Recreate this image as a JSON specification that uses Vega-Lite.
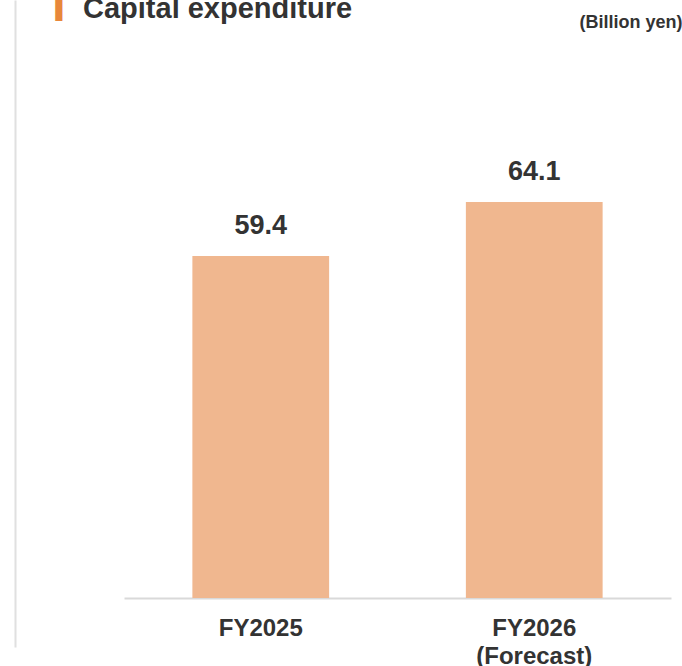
{
  "$schema": "https://vega.github.io/schema/vega-lite/v6.json",
  "width": 547,
  "height": 647,
  "autosize": {"type": "none"},
  "padding": {"left": 124, "top": 0, "right": 11, "bottom": 19},
  "background": "white",
  "config": {"view": {"stroke": null}},
  "title": {
    "text": "Capital expenditure",
    "anchor": "start",
    "frame": "group",
    "fontSize": 29,
    "fontWeight": "bold",
    "font": "Liberation Sans",
    "color": "#333333",
    "baseline": "alphabetic",
    "offset": 0,
    "dx": -41,
    "dy": 52
  },
  "data": {
    "values": [
      {"year": "FY2025", "value": 59.4},
      {"year": "FY2026 (Forecast)", "value": 64.1}
    ]
  },
  "encoding": {
    "x": {
      "field": "year",
      "type": "nominal",
      "sort": null,
      "scale": {"paddingInner": 0.5, "paddingOuter": 0.25},
      "axis": {
        "orient": "bottom",
        "offset": -49,
        "domainColor": "#d9d9d9",
        "domainWidth": 2,
        "ticks": false,
        "labelAngle": 0,
        "labelFontSize": 24,
        "labelFontWeight": "bold",
        "labelColor": "#333333",
        "labelFont": "Liberation Sans",
        "labelPadding": 37,
        "labelBaseline": "alphabetic",
        "labelLineHeight": 28,
        "labelOverlap": false,
        "labelExpr": "split(datum.label, ' ')",
        "title": "(Billion yen)",
        "titleX": 558,
        "titleY": -571,
        "titleAlign": "right",
        "titleAnchor": null,
        "titleAngle": 0,
        "titleBaseline": "alphabetic",
        "titleFontSize": 18,
        "titleFontWeight": "bold",
        "titleColor": "#333333",
        "titleFont": "Liberation Sans"
      }
    },
    "y": {
      "field": "value",
      "type": "quantitative",
      "scale": {"domain": [25.33, 81.7], "nice": false, "zero": false},
      "axis": {
        "orient": "left",
        "offset": 109,
        "domainColor": "#e0e0e0",
        "domainWidth": 2,
        "ticks": false,
        "labels": false,
        "grid": false,
        "title": "▍",
        "titleColor": "#E8873A",
        "titleFont": "DejaVu Sans",
        "titleFontSize": 24,
        "titleFontWeight": "normal",
        "titleAngle": 0,
        "titleX": 40,
        "titleY": 14,
        "titleAlign": "left",
        "titleBaseline": "alphabetic"
      }
    }
  },
  "layer": [
    {
      "mark": {"type": "bar", "color": "#F0B78F"},
      "encoding": {"y2": {"datum": 29.6}}
    },
    {
      "mark": {
        "type": "text",
        "baseline": "alphabetic",
        "dy": -22,
        "fontSize": 27,
        "fontWeight": "bold",
        "font": "Liberation Sans",
        "color": "#333333"
      },
      "encoding": {"text": {"field": "value", "type": "quantitative", "format": ".1f"}}
    }
  ]
}
